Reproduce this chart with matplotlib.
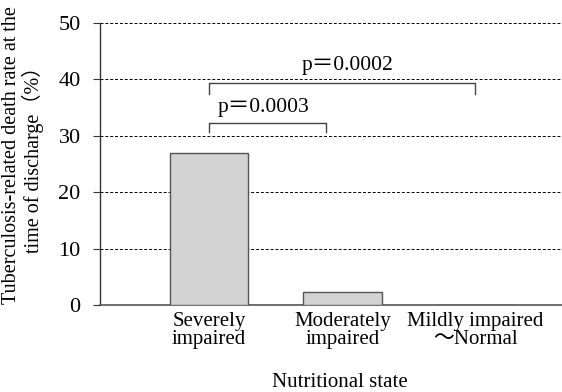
import matplotlib.pyplot as plt

plt.rcParams['font.family'] = ['Liberation Serif', 'Noto Sans CJK JP']

# data
categories = ['Severely\nimpaired', 'Moderately\nimpaired', 'Mildly impaired\n～Normal']
death_rate = [27.0, 2.3, 0.0]
yticks = [0, 10, 20, 30, 40, 50]

fig = plt.figure(figsize=(5.62, 3.92), dpi=100)
ax = fig.add_axes([0.178, 0.222, 0.822, 0.719])

x = range(len(categories))
ax.bar(x, death_rate, width=0.59, color='#d3d3d3', edgecolor='#555555', linewidth=1.0, zorder=3)

ax.set_xlim(-0.82, 2.65)
ax.set_ylim(0, 50)
ax.set_yticks(yticks)
ax.set_xticks(list(x))
ax.set_xticklabels(categories, fontsize=15, linespacing=0.95)
ax.tick_params(axis='x', length=0, pad=5)
ax.tick_params(axis='y', labelsize=16, length=5, width=0.8, color='#333333', pad=9)

for v in yticks[1:]:
    ax.axhline(v, color='black', linestyle=(0, (3, 2)), linewidth=0.7, zorder=1)

for s in ['top', 'right']:
    ax.spines[s].set_visible(False)
ax.spines['left'].set_color('#333333')
ax.spines['bottom'].set_color('#555555')
ax.spines['left'].set_linewidth(1.0)
ax.spines['bottom'].set_linewidth(1.2)

# significance brackets
ax.plot([0, 0, 0.88, 0.88], [30.6, 32.3, 32.3, 30.6], color='#444444', linewidth=1.0)
ax.text(0.41, 35.1, 'p＝0.0003', ha='center', va='center', fontsize=15.5)
ax.plot([0, 0, 2.0, 2.0], [37.5, 39.3, 39.3, 37.5], color='#444444', linewidth=1.0)
ax.text(1.04, 42.5, 'p＝0.0002', ha='center', va='center', fontsize=15.5)

fig.text(23 / 562, 1 - 155 / 392, 'Tuberculosis-related death rate at the\ntime of discharge（%）',
         rotation=90, ha='center', va='center', fontsize=14.5, linespacing=1.0)
fig.text(0.605, 0.025, 'Nutritional state', ha='center', va='center', fontsize=15)

fig.savefig('out.png', dpi=100)
